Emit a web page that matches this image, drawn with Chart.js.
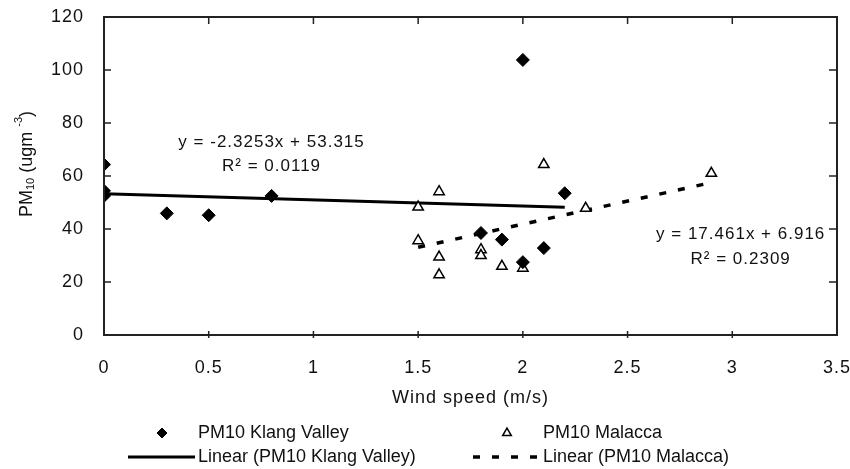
<!DOCTYPE html>
<html>
<head>
<meta charset="utf-8">
<script src="https://cdn.jsdelivr.net/npm/chart.js@4/dist/chart.umd.min.js"></script>
<style>
  html, body { margin: 0; padding: 0; background: #fff; }
  #wrap { width: 850px; height: 469px; }
</style>
</head>
<body>
<div id="wrap"><canvas id="pmChart"></canvas></div>
<script>
// values
var klangX = [0, 0, 0, 0.3, 0.5, 0.8, 1.8, 1.9, 2.0, 2.0, 2.1, 2.2]
var klangY = [64.3, 54.4, 52.5, 45.9, 45.2, 52.5, 38.5, 36.0, 103.8, 27.5, 32.8, 53.5]
var malaccaX = [1.5, 1.5, 1.6, 1.6, 1.6, 1.8, 1.8, 1.9, 2.0, 2.1, 2.3, 2.9]
var malaccaY = [48.3, 35.6, 54.1, 29.4, 22.7, 32.2, 30.0, 25.9, 25.2, 64.3, 47.8, 61.0]

// trend line end points (as drawn)
var klangFitX = [0, 2.2]
var klangFitY = [53.3, 48.2]
var malaccaFitX = [1.5, 2.9]
var malaccaFitY = [33.1, 57.5]

var seriesNames = ['PM10 Klang Valley', 'PM10 Malacca', 'Linear (PM10 Klang Valley)', 'Linear (PM10 Malacca)']
var klangEq = ['y = -2.3253x + 53.315', 'R² = 0.0119']
var malaccaEq = ['y = 17.461x + 6.916', 'R² = 0.2309']

var FONT = "'Liberation Sans', Arial, sans-serif"
var INK = '#111'

function pts(xs, ys) {
  var out = []
  for (var i = 0; i < xs.length; i++) out.push({x: xs[i], y: ys[i]})
  return out
}

// the reference text is a little letter-spaced
const spacingPlugin = {
  id: 'spacing',
  beforeDraw(chart) {
    chart.ctx.letterSpacing = '1px'
  }
}

// box around the plot with inward ticks, like the excel frame
const framePlugin = {
  id: 'frame',
  afterDatasetsDraw(chart) {
    const ctx = chart.ctx, a = chart.chartArea
    const xs = chart.scales.x, ys = chart.scales.y
    ctx.save()
    ctx.strokeStyle = '#222'
    ctx.lineWidth = 2
    ctx.strokeRect(a.left, a.top, a.right - a.left, a.bottom - a.top)
    ctx.lineWidth = 1.5
    ctx.beginPath()
    xs.ticks.forEach(t => {
      const px = xs.getPixelForValue(t.value)
      if (px <= a.left + 1 || px >= a.right - 1) return
      ctx.moveTo(px, a.top); ctx.lineTo(px, a.top + 7)
      ctx.moveTo(px, a.bottom - 4); ctx.lineTo(px, a.bottom + 3)
    })
    ys.ticks.forEach(t => {
      const py = ys.getPixelForValue(t.value)
      if (py <= a.top + 1 || py >= a.bottom - 1) return
      ctx.moveTo(a.left, py); ctx.lineTo(a.left + 7, py)
      ctx.moveTo(a.right - 8, py); ctx.lineTo(a.right, py)
    })
    ctx.stroke()
    ctx.restore()
  }
}

// regression equations placed in data coordinates
const eqPlugin = {
  id: 'equations',
  afterDatasetsDraw(chart) {
    const ctx = chart.ctx
    const xs = chart.scales.x, ys = chart.scales.y
    const spots = [
      {lines: klangEq, x: 0.80, y: [72.6, 63.5]},
      {lines: malaccaEq, x: 3.04, y: [38.0, 28.6]}
    ]
    ctx.save()
    ctx.fillStyle = INK
    ctx.font = '17px ' + FONT
    ctx.textAlign = 'center'
    ctx.textBaseline = 'middle'
    spots.forEach(s => {
      s.lines.forEach((txt, i) => {
        ctx.fillText(txt, xs.getPixelForValue(s.x), ys.getPixelForValue(s.y[i]))
      })
    })
    ctx.restore()
  }
}

// y title with a real subscript and superscript
const yTitlePlugin = {
  id: 'yTitle',
  afterDraw(chart) {
    const ctx = chart.ctx, a = chart.chartArea
    const parts = [
      {t: 'PM', size: 18, dy: 0},
      {t: '10', size: 11, dy: 4},
      {t: ' (ugm ', size: 18, dy: 0},
      {t: '-3', size: 11, dy: -8},
      {t: ')', size: 18, dy: 0}
    ]
    ctx.save()
    ctx.letterSpacing = '0px'
    let total = 0
    parts.forEach(p => { ctx.font = p.size + 'px ' + FONT; p.w = ctx.measureText(p.t).width; total += p.w })
    ctx.translate(27, (a.top + a.bottom) / 2 - 12)
    ctx.rotate(-Math.PI / 2)
    ctx.fillStyle = INK
    ctx.textBaseline = 'middle'
    ctx.textAlign = 'left'
    let x = -total / 2
    parts.forEach(p => {
      ctx.font = p.size + 'px ' + FONT
      ctx.fillText(p.t, x, p.dy)
      x += p.w
    })
    ctx.restore()
  }
}

// two-by-two legend under the axis title
const legendPlugin = {
  id: 'gridLegend',
  afterDraw(chart) {
    const ctx = chart.ctx
    const ds = chart.data.datasets
    const cols = [{icon: 162, text: 198}, {icon: 507, text: 543}]
    const rows = [433, 457]
    ctx.save()
    ctx.letterSpacing = '0px'
    ctx.font = '18px ' + FONT
    ctx.textBaseline = 'middle'
    ctx.textAlign = 'left'
    for (let i = 0; i < 4; i++) {
      const c = cols[i % 2], y = rows[Math.floor(i / 2)]
      const d = ds[i]
      if (i < 2) {
        ctx.fillStyle = d.backgroundColor
        ctx.strokeStyle = d.borderColor
        ctx.lineWidth = d.borderWidth
        Chart.helpers.drawPoint(ctx, {pointStyle: d.pointStyle, radius: 5, borderWidth: d.borderWidth, rotation: 0}, c.icon, y)
      } else {
        ctx.strokeStyle = d.borderColor
        ctx.lineWidth = d.borderWidth
        ctx.setLineDash(d.borderDash || [])
        ctx.beginPath()
        ctx.moveTo(c.text - 70, y); ctx.lineTo(c.text - 3, y)
        ctx.stroke()
        ctx.setLineDash([])
      }
      ctx.fillStyle = INK
      ctx.fillText(seriesNames[i], c.text, y)
    }
    ctx.restore()
  }
}

function noOverflow(scale) {
  scale.paddingTop = 0
  scale.paddingBottom = 0
  scale.paddingLeft = 0
  scale.paddingRight = 0
}

new Chart(document.getElementById('pmChart'), {
  type: 'scatter',
  data: {
    datasets: [
      {
        label: seriesNames[0],
        data: pts(klangX, klangY),
        pointStyle: 'rectRot',
        pointRadius: 6.5,
        backgroundColor: '#000',
        borderColor: '#000',
        borderWidth: 1
      },
      {
        label: seriesNames[1],
        data: pts(malaccaX, malaccaY),
        pointStyle: 'triangle',
        pointRadius: 6,
        backgroundColor: '#fff',
        borderColor: '#000',
        borderWidth: 1.5
      },
      {
        label: seriesNames[2],
        data: pts(klangFitX, klangFitY),
        showLine: true,
        pointRadius: 0,
        borderColor: '#000',
        backgroundColor: '#000',
        borderWidth: 3
      },
      {
        label: seriesNames[3],
        data: pts(malaccaFitX, malaccaFitY),
        showLine: true,
        pointRadius: 0,
        borderColor: '#000',
        backgroundColor: '#000',
        borderWidth: 3.5,
        borderDash: [7, 12]
      }
    ]
  },
  options: {
    responsive: true,
    maintainAspectRatio: false,
    animation: false,
    layout: {
      padding: {left: 16, right: 13, top: 17, bottom: 60}
    },
    plugins: {
      legend: {display: false},
      tooltip: {enabled: false}
    },
    scales: {
      x: {
        type: 'linear',
        min: 0,
        max: 3.5,
        grid: {display: false, drawTicks: false},
        border: {display: false},
        afterFit(scale) { scale.height = 74; noOverflow(scale) },
        ticks: {
          stepSize: 0.5,
          padding: 22,
          color: INK,
          font: {family: FONT, size: 18},
          maxRotation: 0,
          callback: v => String(Math.round(v * 10) / 10)
        },
        title: {
          display: true,
          text: 'Wind speed (m/s)',
          color: INK,
          font: {family: FONT, size: 18},
          padding: {top: 10, bottom: 0}
        }
      },
      y: {
        min: 0,
        max: 120,
        grid: {display: false, drawTicks: false},
        border: {display: false},
        afterFit(scale) { scale.width = 88; noOverflow(scale) },
        ticks: {
          stepSize: 20,
          padding: 20,
          color: INK,
          font: {family: FONT, size: 18}
        },
        title: {display: false}
      }
    }
  },
  plugins: [spacingPlugin, framePlugin, eqPlugin, yTitlePlugin, legendPlugin]
});
</script>
</body>
</html>
